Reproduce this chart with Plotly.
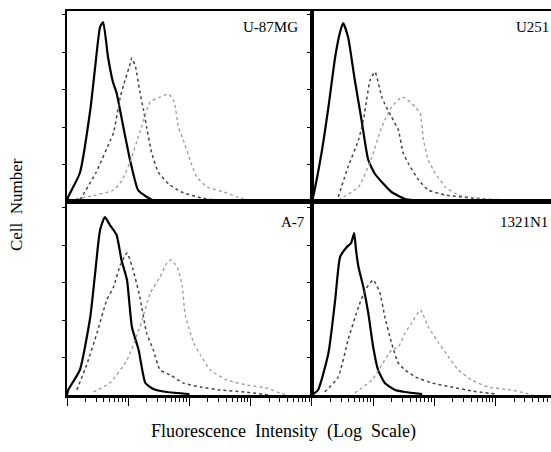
import plotly.graph_objects as go

# ---- data: log10(fluorescence) positions and cell counts ----
u87_solid_x = [0.0, 0.02, 0.21, 0.38, 0.46, 0.54, 0.59, 0.67, 0.75, 0.81, 0.92, 1.03, 1.16, 1.28, 1.40, 1.7, 2.0]
u87_solid_y = [0, 5, 29, 92, 135, 175, 180, 145, 120, 109, 75, 42, 12, 6, 2, 1, 0]
u87_mid_x = [0.21, 0.47, 0.71, 0.76, 0.87, 0.93, 1.03, 1.06, 1.12, 1.19, 1.25, 1.30, 1.38, 1.49, 1.66, 1.87, 2.2, 2.6]
u87_mid_y = [2, 29, 62, 69, 105, 118, 138, 144, 135, 110, 92, 75, 50, 30, 18, 10, 4, 1]
u87_light_x = [0.05, 0.4, 0.76, 0.9, 1.03, 1.19, 1.36, 1.52, 1.66, 1.75, 1.82, 1.90, 2.01, 2.12, 2.29, 2.56, 2.78, 3.0]
u87_light_y = [2, 6, 12, 22, 40, 70, 100, 105, 108, 100, 75, 62, 42, 25, 15, 10, 5, 1]

u251_solid_x = [0.0, 0.02, 0.16, 0.27, 0.38, 0.46, 0.51, 0.59, 0.70, 0.81, 0.92, 1.03, 1.14, 1.30, 1.52, 1.8]
u251_solid_y = [0, 5, 50, 95, 145, 170, 179, 165, 122, 82, 42, 28, 20, 10, 3, 1]
u251_mid_x = [0.43, 0.59, 0.76, 0.84, 0.90, 0.95, 1.03, 1.14, 1.19, 1.30, 1.41, 1.49, 1.57, 1.74, 1.90, 2.18, 2.6, 3.0]
u251_mid_y = [5, 35, 62, 82, 105, 122, 130, 105, 98, 85, 72, 49, 39, 22, 12, 7, 4, 1]
u251_light_x = [0.43, 0.76, 0.98, 1.14, 1.30, 1.47, 1.52, 1.69, 1.77, 1.82, 1.90, 2.01, 2.18, 2.39, 2.7, 3.15, 3.5]
u251_light_y = [2, 15, 45, 75, 95, 105, 104, 95, 88, 62, 42, 29, 15, 7, 4, 2, 0]

a7_solid_x = [0.0, 0.02, 0.21, 0.38, 0.46, 0.54, 0.62, 0.70, 0.81, 0.89, 0.98, 1.06, 1.17, 1.28, 1.41, 1.63, 2.0]
a7_solid_y = [0, 5, 25, 78, 122, 165, 178, 170, 160, 135, 115, 68, 45, 12, 6, 3, 1]
a7_mid_x = [0.16, 0.32, 0.49, 0.65, 0.76, 0.87, 0.98, 1.08, 1.19, 1.30, 1.41, 1.52, 1.69, 1.90, 2.18, 2.5, 2.9, 3.3]
a7_mid_y = [5, 30, 62, 95, 108, 130, 142, 125, 98, 62, 45, 25, 20, 12, 8, 5, 3, 0]
a7_light_x = [0.43, 0.70, 0.98, 1.19, 1.36, 1.52, 1.63, 1.70, 1.80, 1.88, 1.93, 2.07, 2.18, 2.34, 2.61, 2.94, 3.26, 3.48, 3.6]
a7_light_y = [3, 12, 35, 68, 102, 118, 132, 135, 128, 110, 80, 52, 40, 25, 15, 10, 7, 2, 0]

n1321_solid_x = [0.0, 0.10, 0.27, 0.38, 0.46, 0.57, 0.64, 0.69, 0.72, 0.76, 0.84, 0.92, 1.0, 1.08, 1.19, 1.36, 1.52, 1.8]
n1321_solid_y = [0, 5, 42, 95, 138, 148, 152, 162, 145, 128, 108, 82, 48, 25, 12, 5, 3, 1]
n1321_mid_x = [0.21, 0.43, 0.59, 0.76, 0.87, 1.0, 1.11, 1.19, 1.30, 1.41, 1.52, 1.69, 1.96, 2.28, 2.61, 3.0]
n1321_mid_y = [3, 18, 55, 88, 105, 115, 102, 78, 52, 32, 25, 18, 12, 8, 4, 1]
n1321_light_x = [0.70, 0.98, 1.14, 1.30, 1.41, 1.52, 1.63, 1.77, 1.90, 2.07, 2.23, 2.39, 2.61, 2.88, 3.26, 3.48, 3.6]
n1321_light_y = [2, 15, 30, 45, 48, 62, 72, 85, 68, 52, 38, 25, 15, 8, 5, 2, 0]

panel_names = ["U-87MG", "U251", "A-7", "1321N1"]
y_ticks = [37.5, 75, 112.5, 150, 187.5]

panels = [
    (u87_solid_x, u87_solid_y, u87_mid_x, u87_mid_y, u87_light_x, u87_light_y),
    (u251_solid_x, u251_solid_y, u251_mid_x, u251_mid_y, u251_light_x, u251_light_y),
    (a7_solid_x, a7_solid_y, a7_mid_x, a7_mid_y, a7_light_x, a7_light_y),
    (n1321_solid_x, n1321_solid_y, n1321_mid_x, n1321_mid_y, n1321_light_x, n1321_light_y),
]

fig = go.Figure()
styles = [
    dict(color="black", width=2.2, shape="spline", smoothing=0.5),
    dict(color="#444444", width=1.5, dash="dot", shape="spline", smoothing=0.5),
    dict(color="#999999", width=1.3, dash="dot", shape="spline", smoothing=0.5),
]
for i, p in enumerate(panels):
    ax = "" if i == 0 else str(i + 1)
    for k in range(3):
        xs = [10 ** v for v in p[2 * k]]
        fig.add_trace(go.Scatter(x=xs, y=p[2 * k + 1], mode="lines",
                                 line=styles[k], xaxis="x" + ax, yaxis="y" + ax,
                                 showlegend=False, hoverinfo="skip"))

xl = [0, 0.506]
xr = [0.506, 1.0]
yt = [0.5026, 1.0]
yb = [0.0, 0.5026]

common_x = dict(type="log", showline=True, linecolor="black", mirror=True,
                showgrid=False, zeroline=False, showticklabels=False)
top_x = dict(common_x, linewidth=2, ticks="")
bot_x = dict(common_x, linewidth=3, ticks="outside", ticklen=8, tickwidth=1,
             tickcolor="black", dtick=1,
             minor=dict(ticks="outside", ticklen=4, dtick="D1", tickcolor="black", showgrid=False))
common_y = dict(showline=True, linecolor="black", linewidth=2, showgrid=False,
                zeroline=False, showticklabels=False, ticks="outside", ticklen=3,
                tickcolor="black", tickvals=y_ticks)

fig.update_layout(
    xaxis=dict(top_x, domain=xl, range=[0, 4.0], anchor="y"),
    xaxis2=dict(top_x, domain=xr, range=[0, 3.902], anchor="y2"),
    xaxis3=dict(bot_x, domain=xl, range=[0, 4.0], anchor="y3"),
    xaxis4=dict(bot_x, domain=xr, range=[0, 3.902], anchor="y4"),
    yaxis=dict(common_y, domain=yt, range=[0, 191], anchor="x", mirror=True),
    yaxis2=dict(common_y, domain=yt, range=[0, 191], anchor="x2"),
    yaxis3=dict(common_y, domain=yb, range=[0, 193], anchor="x3", mirror=True),
    yaxis4=dict(common_y, domain=yb, range=[0, 193], anchor="x4"),
    width=551, height=452,
    margin=dict(l=67, r=0, t=11, b=57),
    paper_bgcolor="white", plot_bgcolor="white",
    font=dict(family="Liberation Serif", color="black"),
)

label_pos = [("x", 0.951, 0.916), ("x2", 1.0, 0.916), ("x3", 0.98, 0.896), ("x4", 0.996, 0.896)]
for (xr_, xx, yy), name, yr in zip(label_pos, panel_names, ["y", "y2", "y3", "y4"]):
    fig.add_annotation(text=name, xref=xr_ + " domain", yref=yr + " domain", x=xx, y=yy,
                       xanchor="right", yanchor="middle", showarrow=False,
                       font=dict(size=15, family="Liberation Serif", color="black"))

fig.add_annotation(text="Cell  Number", xref="paper", yref="paper", x=-0.103, y=0.495,
                   textangle=-90, showarrow=False, xanchor="center", yanchor="middle",
                   font=dict(size=17, family="Liberation Serif", color="black"))
fig.add_annotation(text="Fluorescence  Intensity  (Log  Scale)", xref="paper", yref="paper",
                   x=0.448, y=-0.096, showarrow=False, xanchor="center", yanchor="middle",
                   font=dict(size=18, family="Liberation Serif", color="black"))

fig.write_html("out.html")
